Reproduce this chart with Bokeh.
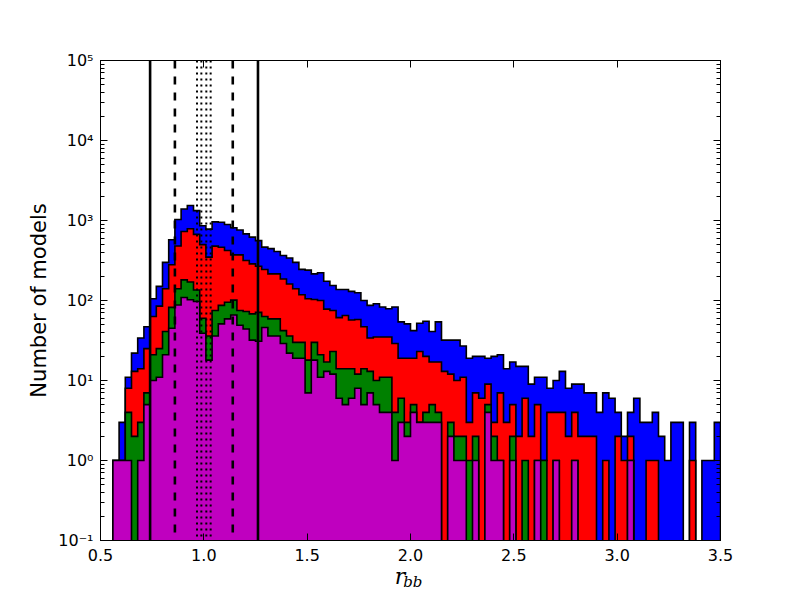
import numpy as np
from bokeh.plotting import figure
from bokeh.models import (Range1d, LogAxis, LinearAxis, FixedTicker, LogTicker,
                          CustomJSTickFormatter, Span)
from bokeh.embed import file_html
from bokeh.resources import INLINE

# ---- data -------------------------------------------------------------
BIN_START = 0.56
BIN_WIDTH = 0.03

blue_counts = [1, 3, 11, 22, 34, 47, 105, 150, 300, 575,
               1030, 1390, 1540, 1330, 860, 780, 960, 950, 890, 810,
               760, 680, 620, 560, 465, 445, 410, 365, 340, 300,
               245, 240, 215, 222, 174, 154, 137, 137, 130, 125,
               100, 87, 91, 83, 79, 83, 54, 51, 42, 52,
               55, 41, 54, 32, 32, 32, 27, 19, 20, 20,
               19, 20, 21, 14, 17, 15, 15, 9, 11, 11,
               8, 10, 13, 8, 9, 9, 7, 7, 4, 7,
               6, 4, 2, 4, 6, 3, 3, 4, 2, 1,
               3, 3, 0, 3, 0, 1, 1, 3]

red_counts = [1, 1, 8, 13, 14, 25, 63, 85, 140, 280,
              480, 730, 790, 670, 500, 348, 478, 464, 422, 372,
              372, 316, 287, 268, 244, 215, 215, 186, 161, 140,
              118, 105, 103, 100, 78, 75, 61, 65, 57, 58,
              47, 34, 35, 35, 35, 29, 19, 19, 19, 23,
              20, 17, 17, 13, 12, 10, 11, 3, 7, 6,
              9, 3, 7, 3, 5, 2, 6, 2, 5, 1,
              4, 4, 4, 2, 4, 2, 2, 2, 0, 1,
              0, 2, 1, 2, 0, 0, 1, 1, 0, 0,
              0, 0, 0, 1, 0, 0, 0, 0]

green_counts = [1, 1, 4, 2, 3, 7, 21, 25, 41, 82,
                140, 181, 170, 135, 60, 36, 75, 87, 95, 101,
                75, 73, 68, 71, 63, 59, 59, 42, 36, 30,
                30, 18, 30, 21, 17, 23, 14, 14, 14, 12,
                14, 13, 10, 11, 11, 4, 6, 3, 5, 3,
                4, 5, 4, 0, 3, 2, 2, 1, 2, 0,
                5, 2, 1, 0, 2, 0, 1, 0, 1, 1,
                0, 1, 0, 0, 1, 0, 0, 0, 0, 0,
                0, 0, 0, 1, 0, 0, 0, 0, 0, 0,
                0, 0, 0, 0, 0, 0, 0, 0]

magenta_counts = [1, 1, 1, 0, 1, 5, 10, 11, 21, 45,
                  88, 109, 102, 97, 39, 18, 36, 51, 59, 66,
                  49, 44, 32, 31, 46, 36, 36, 29, 22, 19,
                  19, 7, 18, 11, 13, 12, 6, 5, 6, 8,
                  5, 7, 5, 4, 4, 1, 3, 2, 4, 3,
                  3, 3, 3, 0, 2, 1, 1, 0, 1, 0,
                  4, 1, 1, 0, 1, 0, 0, 0, 1, 0,
                  0, 1, 0, 0, 1, 0, 0, 0, 0, 0,
                  0, 0, 0, 1, 0, 0, 0, 0, 0, 0,
                  0, 0, 0, 0, 0, 0, 0, 0]

series = [("blue", blue_counts), ("red", red_counts),
          ("green", green_counts), ("magenta", magenta_counts)]
series_colors = {"blue": "#0000ff", "red": "#ff0000",
                 "green": "#008000", "magenta": "#bf00bf"}

solid_lines = [0.74, 1.262]
dashed_lines = [0.86, 1.14]
dotted_lines = [0.967, 0.988, 1.012, 1.033]

x_ticks = [0.5, 1.0, 1.5, 2.0, 2.5, 3.0, 3.5]
y_label = "Number of models"
x_label_main = "r"
x_label_sub = "bb"

# ---- figure ----------------------------------------------------------
p = figure(frame_width=620, frame_height=480,
           x_range=Range1d(0.5, 3.5), y_range=Range1d(0.1, 1e5),
           y_axis_type="log", output_backend="svg", toolbar_location=None,
           min_border_left=100, min_border_top=60, min_border_right=72,
           min_border_bottom=0)
p.background_fill_color = "white"
p.border_fill_color = "white"
p.outline_line_color = "black"
p.outline_line_width = 1
p.xgrid.visible = False
p.ygrid.visible = False

BASE = 1e-3
n = len(blue_counts)
edges = BIN_START + BIN_WIDTH * np.arange(n + 1)

for name, counts in series:
    xs = [edges[0]]
    ys = [BASE]
    for i, c in enumerate(counts):
        v = c if c > 0 else BASE
        xs += [edges[i], edges[i + 1]]
        ys += [v, v]
    xs.append(edges[-1])
    ys.append(BASE)
    p.patch(xs, ys, fill_color=series_colors[name], line_color="black",
            line_width=1.6, line_join="miter")

for loc in solid_lines:
    p.add_layout(Span(location=loc, dimension="height", line_color="black",
                      line_width=2.6))
for loc in dashed_lines:
    p.add_layout(Span(location=loc, dimension="height", line_color="black",
                      line_width=2.6, line_dash="8 8"))
for loc in dotted_lines:
    p.add_layout(Span(location=loc, dimension="height", line_color="black",
                      line_width=2, line_dash="2 4"))

FONT = "DejaVu Sans"
sup_fmt = CustomJSTickFormatter(code="""
const sup = {'-':'\u207b','0':'\u2070','1':'\u00b9','2':'\u00b2','3':'\u00b3',
             '4':'\u2074','5':'\u2075','6':'\u2076','7':'\u2077','8':'\u2078','9':'\u2079'};
const e = Math.round(Math.log10(tick));
return '10' + String(e).split('').map(c => sup[c]).join('');
""")
x_fmt = CustomJSTickFormatter(code="return tick.toFixed(1);")
blank_fmt = CustomJSTickFormatter(code="return '';")

def style_axis(ax):
    ax.axis_line_color = "black"
    ax.axis_line_width = 1
    ax.major_tick_in = 7
    ax.major_tick_out = 0
    ax.minor_tick_in = 4
    ax.minor_tick_out = 0
    ax.major_tick_line_color = "black"
    ax.minor_tick_line_color = "black"
    ax.major_label_text_font = FONT
    ax.major_label_text_font_size = "16px"
    ax.major_label_text_color = "black"

NBSP = "\u00a0"

xa = p.xaxis[0]
style_axis(xa)
xa.ticker = FixedTicker(ticks=x_ticks)
xa.formatter = x_fmt
xa.minor_tick_line_color = None
xa.major_label_standoff = 8
xa.axis_label = x_label_main + NBSP * 3
xa.axis_label_text_font = "DejaVu Serif"
xa.axis_label_text_font_style = "italic"
xa.axis_label_text_font_size = "22px"
xa.axis_label_text_color = "black"
xa.axis_label_standoff = 0

# subscript part of the x label, on a bare extra axis pulled up next to "r"
sub_axis = LinearAxis(ticker=FixedTicker(ticks=[]), formatter=blank_fmt)
sub_axis.axis_line_color = None
sub_axis.major_tick_line_color = None
sub_axis.minor_tick_line_color = None
sub_axis.major_label_text_font_size = "0px"
sub_axis.axis_label = NBSP + x_label_sub
sub_axis.axis_label_text_font = "DejaVu Serif"
sub_axis.axis_label_text_font_style = "italic"
sub_axis.axis_label_text_font_size = "15px"
sub_axis.axis_label_text_color = "black"
sub_axis.axis_label_standoff = -19
p.add_layout(sub_axis, "below")

ya = p.yaxis[0]
style_axis(ya)
ya.ticker = LogTicker(num_minor_ticks=10)
ya.formatter = sup_fmt
ya.major_label_standoff = 7
ya.axis_label = y_label
ya.axis_label_text_font = FONT
ya.axis_label_text_font_size = "21px"
ya.axis_label_text_font_style = "normal"
ya.axis_label_text_color = "black"
ya.axis_label_standoff = 4

ra = LogAxis(ticker=LogTicker(num_minor_ticks=10), formatter=blank_fmt)
style_axis(ra)
p.add_layout(ra, "right")
ta = LinearAxis(ticker=FixedTicker(ticks=x_ticks), formatter=blank_fmt)
style_axis(ta)
ta.minor_tick_line_color = None
p.add_layout(ta, "above")

open("out.html", "w").write(file_html(p, INLINE))
